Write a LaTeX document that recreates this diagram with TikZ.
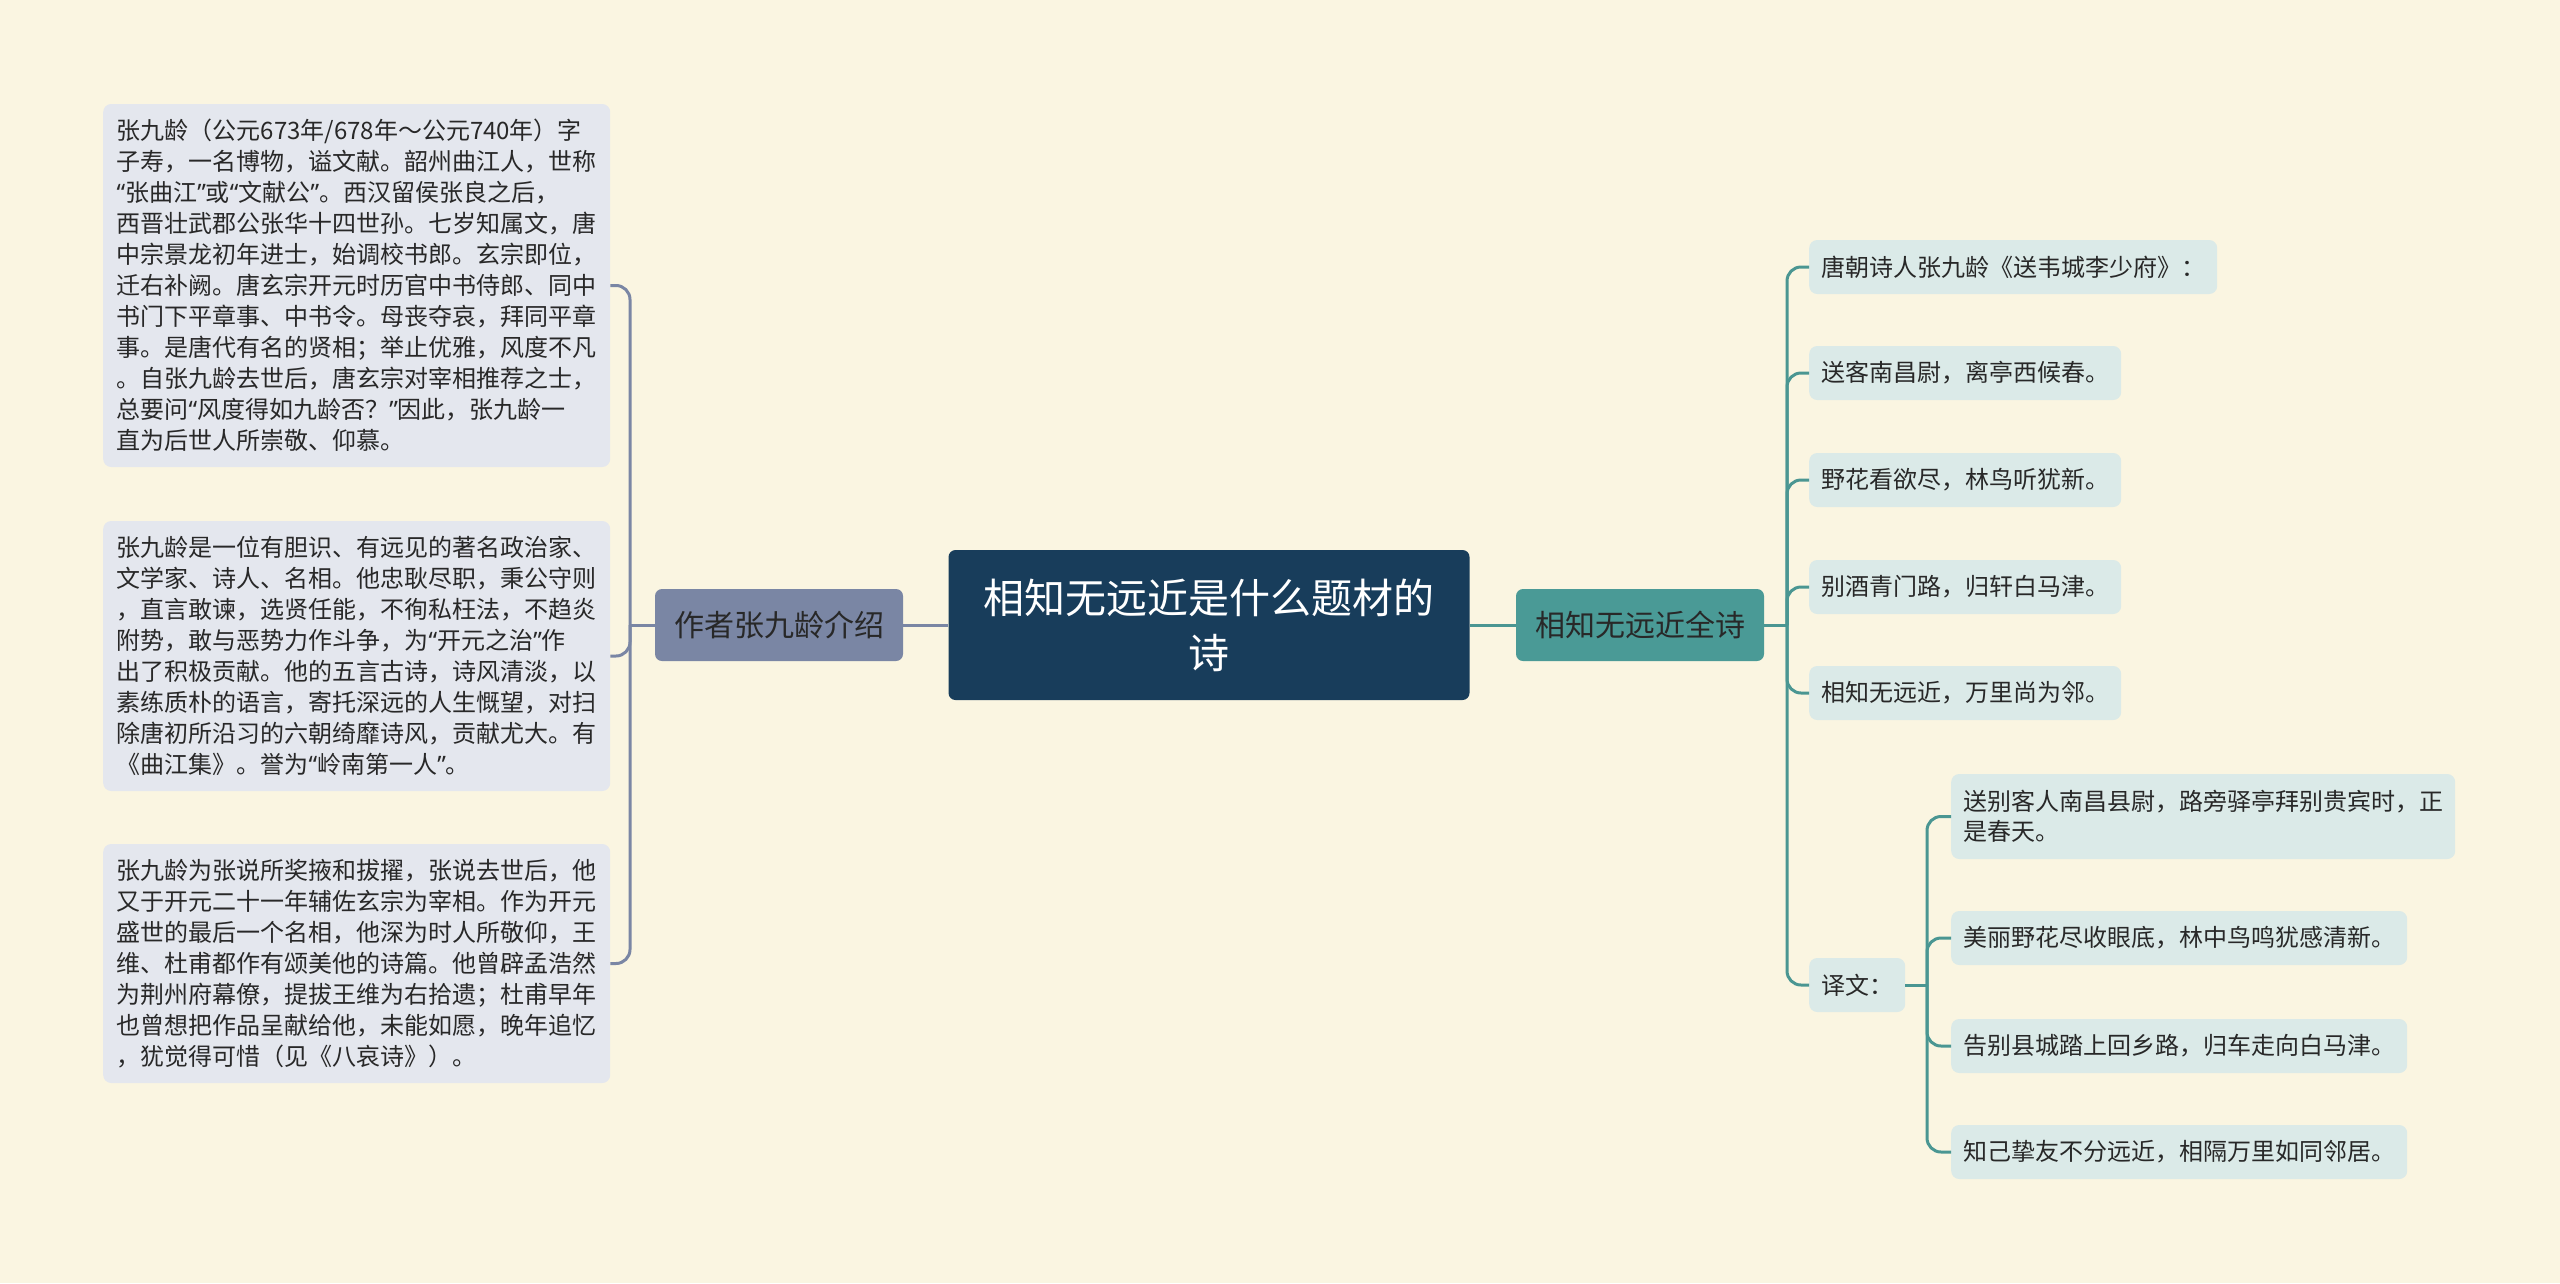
\documentclass[tikz,border=0pt]{standalone}
\usepackage{fontspec}
\setmainfont{Noto Sans CJK SC}
\newfontfamily\qfont{Noto Sans}
\newcommand{\zlq}{{\qfont “}}
\newcommand{\zrq}{{\qfont ”}}
\definecolor{bg}{RGB}{250,245,225}
\definecolor{lfill}{RGB}{228,231,238}
\definecolor{rfill}{RGB}{219,234,232}
\definecolor{cfill}{RGB}{24,61,91}
\definecolor{lnfill}{RGB}{122,134,164}
\definecolor{rnfill}{RGB}{74,154,150}
\definecolor{lline}{RGB}{122,134,164}
\definecolor{rline}{RGB}{74,150,146}
\definecolor{txt}{RGB}{40,40,40}
\tikzset{
  lbox/.style={fill=lfill, rounded corners=8pt, text width=480pt, inner xsep=13.5pt, inner ysep=0pt,
    align=left, font=\fontsize{24}{31}\selectfont, text=txt, anchor=west},
  rbox/.style={fill=rfill, rounded corners=8pt, inner xsep=12pt, inner ysep=0pt, minimum height=54pt,
    font=\fontsize{24}{30}\selectfont, text=txt, anchor=west},
  mainnode/.style={fill=cfill, rounded corners=7pt, minimum width=521pt, minimum height=150pt,
    align=center, text=white, font=\fontsize{41}{55}\selectfont, inner sep=0pt},
  branchnode/.style={rounded corners=7pt, minimum width=248pt, minimum height=72pt, inner sep=0pt,
    text=txt, font=\fontsize{30}{36}\selectfont},
  lconn/.style={draw=lline, line width=3pt, rounded corners=14pt},
  rconn/.style={draw=rline, line width=3pt, rounded corners=14pt},
}
\begin{document}
\begin{tikzpicture}[x=1pt,y=-1pt]
\fill[bg] (0,0) rectangle (2560,1283);
\useasboundingbox (0,0) rectangle (2560,1283);

% central
\node[mainnode] (c) at (1209,625) {相知无远近是什么题材的\\诗};
\node[branchnode, fill=lnfill] (ln) at (779,625) {作者张九龄介绍};
\node[branchnode, fill=rnfill] (rn) at (1640,625) {相知无远近全诗};

% left boxes
\node[lbox, minimum height=363pt] (l1) at (103,285.5) {张九龄（公元673年/678年～公元740年）字\\子寿，一名博物，谥文献。韶州曲江人，世称\\\zlq 张曲江\zrq 或\zlq 文献公\zrq 。西汉留侯张良之后，\\西晋壮武郡公张华十四世孙。七岁知属文，唐\\中宗景龙初年进士，始调校书郎。玄宗即位，\\迁右补阙。唐玄宗开元时历官中书侍郎、同中\\书门下平章事、中书令。母丧夺哀，拜同平章\\事。是唐代有名的贤相；举止优雅，风度不凡\\。自张九龄去世后，唐玄宗对宰相推荐之士，\\总要问\zlq 风度得如九龄否？\zrq 因此，张九龄一\\直为后世人所崇敬、仰慕。};
\node[lbox, minimum height=270pt] (l2) at (103,656) {张九龄是一位有胆识、有远见的著名政治家、\\文学家、诗人、名相。他忠耿尽职，秉公守则\\，直言敢谏，选贤任能，不徇私枉法，不趋炎\\附势，敢与恶势力作斗争，为\zlq 开元之治\zrq 作\\出了积极贡献。他的五言古诗，诗风清淡，以\\素练质朴的语言，寄托深远的人生慨望，对扫\\除唐初所沿习的六朝绮靡诗风，贡献尤大。有\\《曲江集》。誉为\zlq 岭南第一人\zrq 。};
\node[lbox, minimum height=239pt] (l3) at (103,963.5) {张九龄为张说所奖掖和拔擢，张说去世后，他\\又于开元二十一年辅佐玄宗为宰相。作为开元\\盛世的最后一个名相，他深为时人所敬仰，王\\维、杜甫都作有颂美他的诗篇。他曾辟孟浩然\\为荆州府幕僚，提拔王维为右拾遗；杜甫早年\\也曾想把作品呈献给他，未能如愿，晚年追忆\\，犹觉得可惜（见《八哀诗》）。};

% right boxes
\node[rbox] (r1) at (1809,267) {唐朝诗人张九龄《送韦城李少府》：};
\node[rbox] (r2) at (1809,373) {送客南昌尉，离亭西候春。};
\node[rbox] (r3) at (1809,480) {野花看欲尽，林鸟听犹新。};
\node[rbox] (r4) at (1809,587) {别酒青门路，归轩白马津。};
\node[rbox] (r5) at (1809,693) {相知无远近，万里尚为邻。};
\node[rbox] (r6) at (1809,985) {译文：};

\node[rbox, minimum height=85pt, text width=480pt, align=left] (t1) at (1951,816.5) {送别客人南昌县尉，路旁驿亭拜别贵宾时，正\\是春天。};
\node[rbox] (t2) at (1951,938) {美丽野花尽收眼底，林中鸟鸣犹感清新。};
\node[rbox] (t3) at (1951,1046) {告别县城踏上回乡路，归车走向白马津。};
\node[rbox] (t4) at (1951,1152) {知己挚友不分远近，相隔万里如同邻居。};

% junctions
\coordinate (lj) at (630,625);
\coordinate (rj) at (1787,625);
\coordinate (tj) at (1927,985);

% connectors
\draw[lconn] (c.west) -- (ln.east);
\draw[rconn] (c.east) -- (rn.west);
\draw[lconn] (ln.west) -- (lj);
\foreach \n in {l1,l2,l3} \draw[lconn] (lj) |- (\n.east);
\draw[rconn] (rn.east) -- (rj);
\foreach \n in {r1,r2,r3,r4,r5,r6} \draw[rconn] (rj) |- (\n.west);
\draw[rconn] (r6.east) -- (tj);
\foreach \n in {t1,t2,t3,t4} \draw[rconn] (tj) |- (\n.west);
\end{tikzpicture}
\end{document}
